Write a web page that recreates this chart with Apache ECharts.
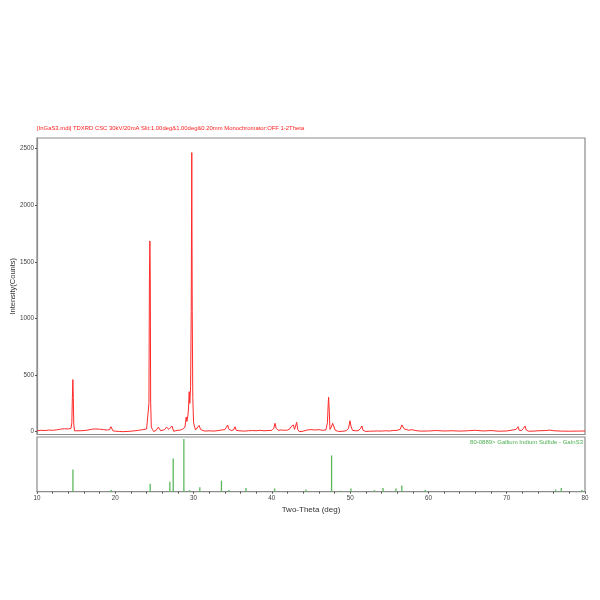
<!DOCTYPE html>
<html><head><meta charset="utf-8">
<script src="https://cdn.jsdelivr.net/npm/echarts@6/dist/echarts.min.js"></script>
<style>html,body{margin:0;padding:0;background:#fff}#c{width:600px;height:600px}</style>
</head><body><div id="c"></div>
<script>
// Measured scan: 2-theta (deg) and intensity (counts)
const twoTheta = [10.0,10.5,11.0,11.5,12.0,12.5,13.0,13.5,14.0,14.35,14.45,14.52,14.58,14.64,14.7,14.8,15.0,15.5,16.0,16.5,17.0,17.5,18.0,18.5,19.0,19.3,19.45,19.55,19.7,20.0,20.5,21.0,21.5,22.0,22.5,23.0,23.5,24.0,24.2,24.3,24.36,24.42,24.47,24.52,24.6,24.75,24.9,25.2,25.5,25.65,25.8,26.0,26.3,26.55,26.7,26.85,27.0,27.25,27.45,27.7,28.0,28.3,28.6,28.9,29.06,29.15,29.27,29.35,29.44,29.52,29.62,29.7,29.77,29.83,29.9,30.0,30.1,30.25,30.45,30.7,30.9,31.2,31.5,32.0,32.5,33.0,33.5,34.0,34.25,34.36,34.48,34.8,35.1,35.3,35.45,35.8,36.5,37.0,37.5,38.0,38.5,39.0,39.5,40.0,40.25,40.4,40.55,40.8,41.2,41.6,42.0,42.3,42.45,42.6,42.75,42.9,43.05,43.17,43.3,43.5,44.0,44.5,45.0,45.5,46.0,46.5,46.9,47.1,47.2,47.25,47.32,47.42,47.6,47.76,47.9,48.1,48.5,49.0,49.5,49.8,49.97,50.1,50.3,50.7,51.0,51.3,51.5,51.65,52.0,52.5,53.0,53.5,54.0,54.5,55.0,55.5,56.0,56.4,56.6,56.72,56.9,57.1,57.5,57.9,58.3,59.0,60.0,61.0,62.0,63.0,64.0,65.0,66.0,67.0,68.0,69.0,70.0,70.8,71.2,71.44,71.6,71.9,72.15,72.33,72.5,72.8,73.5,74.0,75.0,75.5,76.0,77.0,78.0,79.0,80.0];
const intensity = [8,12,10,14,12,16,22,26,24,30,80,300,460,300,60,8,2,8,10,14,22,24,22,18,14,20,44,30,8,4,2,0,2,4,8,12,18,24,40,250,1350,1685,1350,260,40,20,2,10,40,45,8,5,18,40,55,20,25,50,4,12,12,14,22,40,130,90,139,200,353,250,400,1060,2465,1060,300,80,50,15,25,55,20,10,5,8,5,8,14,18,30,59,25,10,15,44,12,8,5,8,10,8,12,8,10,12,30,74,30,12,15,12,14,25,44,30,59,20,35,83,20,0,4,15,18,15,18,12,15,80,250,304,200,20,40,74,50,12,2,3,8,30,97,50,12,8,8,25,50,12,2,4,5,6,5,8,6,10,12,20,60,74,25,8,12,18,10,5,6,10,6,8,5,8,12,6,10,4,6,15,20,44,12,10,30,50,15,4,5,8,10,14,8,5,4,5,6];
// Reference pattern sticks (relative intensity)
const refAngles = [14.59,19.49,24.46,26.97,27.4,28.76,29.48,30.8,33.56,34.5,36.7,40.36,44.36,47.63,48.8,50.1,53.1,54.2,55.85,56.6,59.6,76.25,76.97,79.6];
const refHeights = [42,3,15,19,63,100,3,8.5,21,3,7,6,4,69,2,6,3,7,6,11.6,3,4,7,3];
const yTicks = [0,500,1000,1500,2000,2500];
const titleText = '[InGaS3.mdi] TDXRD CSC 30kV/20mA Slit:1.00deg&1.00deg&0.20mm Monochromator:OFF 1-2Theta';
const refText = '80-0889> Gallium Indium Sulfide - GaInS3';

const scan = twoTheta.map((t,i)=>[t,intensity[i]]);
const sticks = refAngles.map((t,i)=>[t,refHeights[i]]);
const FONT = 'Liberation Sans';
const chart = echarts.init(document.getElementById('c'), null, {renderer:'canvas'});
chart.setOption({
  animation:false,
  backgroundColor:'#fff',
  textStyle:{fontFamily:FONT},
  title:[{text:titleText,left:37,top:125,padding:0,textStyle:{fontSize:5.9,fontWeight:'normal',color:'#ff2020',fontFamily:FONT}},
         {text:refText,right:17,top:439,padding:0,textStyle:{fontSize:6,fontWeight:'normal',color:'#4caf50',fontFamily:FONT}}],
  grid:[{left:37,right:15,top:138,height:296.5,show:true,borderColor:'#8c8c8c',borderWidth:1.2,backgroundColor:'transparent',outerBoundsMode:'none',containLabel:false},
        {left:37,right:15,top:437,height:54.7,show:true,borderColor:'#8c8c8c',borderWidth:1.2,backgroundColor:'transparent',outerBoundsMode:'none',containLabel:false}],
  xAxis:[{gridIndex:0,type:'value',min:10,max:80,show:false},
         {gridIndex:1,type:'value',min:10,max:80,interval:10,
          axisLine:{show:true,lineStyle:{color:'#8c8c8c',width:1.2}},
          axisTick:{show:true,length:2,lineStyle:{color:'#555'}},
          minorTick:{show:true,splitNumber:5,length:2,lineStyle:{color:'#555'}},
          splitLine:{show:false},
          axisLabel:{fontSize:6.3,color:'#444',margin:4,fontFamily:FONT,formatter:v=>String(v)},
          name:'Two-Theta (deg)',nameLocation:'middle',nameGap:14,nameMoveOverlap:false,
          nameTextStyle:{fontSize:8,color:'#333',fontFamily:FONT}}],
  yAxis:[{gridIndex:0,type:'value',min:-25,max:2594,
          axisLine:{show:true,lineStyle:{color:'#8c8c8c',width:1.2}},
          axisTick:{show:true,length:2,customValues:yTicks,lineStyle:{color:'#555'}},
          axisLabel:{fontSize:6.3,color:'#444',margin:3,customValues:yTicks,fontFamily:FONT,formatter:v=>String(v)},
          splitLine:{show:false},
          name:'Intensity(Counts)',nameLocation:'middle',nameGap:20,nameRotate:90,nameMoveOverlap:false,
          nameTextStyle:{fontSize:7.5,color:'#333',fontFamily:FONT}},
         {gridIndex:1,type:'value',min:0,max:104,show:false,splitLine:{show:false}}],
  series:[{type:'line',xAxisIndex:0,yAxisIndex:0,data:scan,showSymbol:false,symbol:'none',
           lineStyle:{color:'#ff2a2a',width:1},clip:true},
          {type:'bar',xAxisIndex:1,yAxisIndex:1,data:sticks,barWidth:1.3,
           itemStyle:{color:'#5cb85c'}}]
});
</script></body></html>
